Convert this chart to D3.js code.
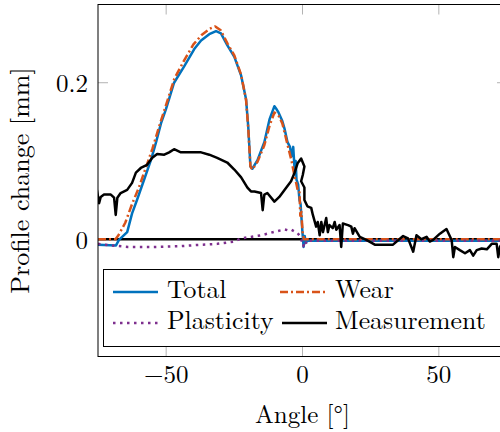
<!DOCTYPE html>
<html>
<head>
<meta charset="utf-8">
<script src="https://cdn.jsdelivr.net/npm/d3@7"></script>
<style>
  body { margin: 0; background: #fff; }
</style>
</head>
<body>
<svg id="chart" width="500" height="432"></svg>
<script>
// angle [deg], profile change [mm]
const totalData = [
  [-75, -0.007], [-68.4, -0.008], [-67.3, -0.001], [-64.3, 0.009], [-62.5, 0.033],
  [-60.7, 0.05], [-58.1, 0.076], [-55.5, 0.102], [-53.7, 0.124], [-51.9, 0.148],
  [-50.1, 0.166], [-47.1, 0.2], [-43.4, 0.221], [-39.7, 0.243], [-37.2, 0.254],
  [-34.2, 0.262], [-31.7, 0.266], [-29.9, 0.263], [-27.6, 0.248], [-25, 0.233],
  [-22.5, 0.209], [-20.7, 0.179], [-19.9, 0.144], [-19.1, 0.093], [-18.4, 0.09],
  [-16.5, 0.101], [-14, 0.124], [-12.1, 0.153], [-10.3, 0.17], [-9.5, 0.166],
  [-8.8, 0.162], [-7.4, 0.151], [-6.5, 0.14], [-5.5, 0.124], [-4.6, 0.118],
  [-4, 0.106], [-3.4, 0.118], [-2.9, 0.089], [-2.5, 0.1], [-2.2, 0.076],
  [-1.6, 0.07], [-1.1, 0.05], [-0.7, 0.045], [-0.4, 0.028], [0, 0.008],
  [0.4, -0.01], [0.8, 0.004], [1.2, -0.004], [2, -0.002], [75, -0.002]
];

const wearData = [
  [-75, 0], [-68.6, 0], [-67.5, 0.005], [-65, 0.021], [-62.5, 0.045],
  [-60, 0.066], [-57.5, 0.091], [-55, 0.116], [-52.5, 0.145], [-50, 0.172],
  [-47, 0.205], [-43.5, 0.228], [-40, 0.249], [-37, 0.261], [-34, 0.269],
  [-32, 0.272], [-30, 0.267], [-27.5, 0.25], [-25, 0.235], [-22.5, 0.21],
  [-20.7, 0.178], [-19.9, 0.142], [-19.1, 0.093], [-18.4, 0.089], [-16.5, 0.099],
  [-14, 0.12], [-12, 0.146], [-10.3, 0.162], [-8.8, 0.158], [-7.4, 0.148],
  [-5.5, 0.121], [-4, 0.1], [-2.9, 0.08], [-2.2, 0.07], [-1.6, 0.06],
  [-1.1, 0.06], [-0.8, 0.03], [-0.4, 0.035], [0, 0.01], [0.5, 0], [75, 0]
];

const plasticityData = [
  [-75, -0.006], [-70, -0.008], [-64, -0.01], [-55, -0.01], [-45, -0.009],
  [-39.7, -0.0077], [-31.2, -0.006], [-25, -0.003], [-22.5, 0.001], [-15, 0.005],
  [-10.3, 0.0094], [-6.6, 0.0125], [-5, 0.011], [-4, 0.012], [-3, 0.01],
  [-1.8, 0.0077], [-1, 0.004], [-0.5, 0], [0.3, -0.009], [0.8, -0.002],
  [1.5, -0.006], [2.5, -0.002], [75, -0.002]
];

const measurementData = [
  [-75.4, 0.063], [-74.6, 0.046], [-74, 0.054], [-72.8, 0.057], [-70.3, 0.057],
  [-69.1, 0.053], [-68.5, 0.031], [-67.9, 0.053], [-66.7, 0.059], [-64.3, 0.063],
  [-62.5, 0.072], [-61.1, 0.085], [-59.3, 0.091], [-57, 0.095], [-55.1, 0.104],
  [-53.3, 0.109], [-50.7, 0.108], [-48.9, 0.111], [-47.1, 0.115], [-44.6, 0.111],
  [-40.9, 0.111], [-37.2, 0.111], [-34.2, 0.108], [-31.3, 0.104], [-27.6, 0.098],
  [-25, 0.089], [-22.5, 0.079], [-20.2, 0.066], [-18.9, 0.061], [-17.6, 0.061],
  [-15.2, 0.059], [-14.6, 0.037], [-14, 0.057], [-12.9, 0.059], [-10.3, 0.048],
  [-8.5, 0.054], [-6.6, 0.063], [-4.2, 0.074], [-2.9, 0.085], [-1.8, 0.097],
  [-0.5, 0.103], [0.7, 0.093], [0.1, 0.082], [-0.5, 0.074], [0.7, 0.066],
  [0.7, 0.05], [1.8, 0.042], [3.2, 0.04], [3.8, 0.031], [5, 0.016],
  [5.6, 0.022], [6.3, 0.005], [6.9, 0.022], [7.5, 0.009], [8.7, 0.027],
  [9.3, 0.009], [9.9, 0.018], [11.1, 0.014], [11.8, 0.022], [12.4, 0.012],
  [13.6, 0.018], [14.2, -0.01], [14.8, 0.02], [16.7, 0.018], [17.9, 0.016],
  [18.5, 0.007], [19.1, 0.014], [21, 0.003], [23.4, -0.001], [26.5, -0.007],
  [33.2, -0.007], [36.9, 0.004], [38.7, 0.001], [40.6, -0.016], [41.8, 0.005],
  [43.6, 0], [45.5, 0.003], [46.7, -0.003], [47.9, -0.001], [50.4, 0.007],
  [52.8, 0.013], [54.7, -0.001], [55.3, -0.023], [55.9, -0.01], [57.7, -0.014],
  [59.6, -0.018], [61.4, -0.014], [62.6, -0.021], [63.9, -0.014], [65.7, -0.012],
  [67.6, -0.013], [69.4, -0.006], [71.2, -0.006], [71.8, -0.023], [72.4, -0.01],
  [73.5, -0.004], [75, -0.004]
];

const xTicks = [-50, 0, 50];
const yTicks = [0, 0.2];

const legendNames = ["Total", "Wear", "Plasticity", "Measurement"];

// Plot area
const plotLeft = 98, plotRight = 507, plotTop = 4.5, plotBottom = 356.5;
const tickLength = 10;
const lineWidth = 2.5;
const fontFamily = '"Latin Modern Roman", "Liberation Serif", serif';
const fontSize = "25px";

const svg = d3.select("#chart");

const x = d3.scaleLinear().domain([-75, 75]).range([plotLeft, plotRight]);
const y = d3.scaleLinear().domain([-0.15, 0.3]).range([plotBottom, plotTop]);

const line = d3.line().x(d => x(d[0])).y(d => y(d[1]));

svg.append("defs").append("clipPath")
  .attr("id", "plot-clip")
  .append("rect")
  .attr("x", plotLeft)
  .attr("y", plotTop)
  .attr("width", plotRight - plotLeft)
  .attr("height", plotBottom - plotTop);

// ticks (pgfplots style, inside, on every side)
const tickGroup = svg.append("g").attr("stroke", "#b3b3b3").attr("stroke-width", 1);
xTicks.forEach(t => {
  tickGroup.append("line").attr("x1", x(t)).attr("x2", x(t)).attr("y1", plotBottom).attr("y2", plotBottom - tickLength);
  tickGroup.append("line").attr("x1", x(t)).attr("x2", x(t)).attr("y1", plotTop).attr("y2", plotTop + tickLength);
});
yTicks.forEach(t => {
  tickGroup.append("line").attr("x1", plotLeft).attr("x2", plotLeft + tickLength).attr("y1", y(t)).attr("y2", y(t));
  tickGroup.append("line").attr("x1", plotRight).attr("x2", plotRight - tickLength).attr("y1", y(t)).attr("y2", y(t));
});

// data
const plot = svg.append("g").attr("clip-path", "url(#plot-clip)").attr("fill", "none");

plot.append("path")
  .attr("d", line([[-75, 0], [75, 0]]))
  .attr("stroke", "#000")
  .attr("stroke-width", lineWidth);

const series = [
  { data: totalData, color: "#0072BD", dash: null },
  { data: wearData, color: "#D95319", dash: "8,3,2,3" },
  { data: plasticityData, color: "#7E2F8E", dash: "2.5,4.5" },
  { data: measurementData, color: "#000000", dash: null }
];

series.forEach(s => {
  plot.append("path")
    .attr("d", line(s.data))
    .attr("stroke", s.color)
    .attr("stroke-width", lineWidth)
    .attr("stroke-linejoin", "round")
    .attr("stroke-dasharray", s.dash);
});

// frame
svg.append("rect")
  .attr("x", plotLeft)
  .attr("y", plotTop)
  .attr("width", plotRight - plotLeft)
  .attr("height", plotBottom - plotTop)
  .attr("fill", "none")
  .attr("stroke", "#000")
  .attr("stroke-width", 1);

// tick labels
svg.append("g").selectAll("text")
  .data(xTicks)
  .join("text")
  .attr("x", d => x(d))
  .attr("y", 383)
  .attr("text-anchor", "middle")
  .style("font-family", fontFamily)
  .style("font-size", fontSize)
  .text(d => d3.format("d")(d));

svg.append("g").selectAll("text")
  .data(yTicks)
  .join("text")
  .attr("x", 88)
  .attr("y", d => y(d) + 9.5)
  .attr("text-anchor", "end")
  .style("font-family", fontFamily)
  .style("font-size", fontSize)
  .text(d => d3.format("")(d));

// axis titles
svg.append("text")
  .attr("x", (plotLeft + plotRight) / 2)
  .attr("y", 423)
  .attr("text-anchor", "middle")
  .style("font-family", fontFamily)
  .style("font-size", fontSize)
  .text("Angle [°]");

svg.append("text")
  .attr("transform", `translate(29, ${(plotTop + plotBottom) / 2}) rotate(-90)`)
  .attr("text-anchor", "middle")
  .style("font-family", fontFamily)
  .style("font-size", "26px")
  .text("Profile change [mm]");

// legend
const legend = svg.append("g");
legend.append("rect")
  .attr("x", 103.5)
  .attr("y", 269.5)
  .attr("width", 404)
  .attr("height", 77)
  .attr("fill", "#fff")
  .attr("stroke", "#000")
  .attr("stroke-width", 1);

const legendPos = [
  { lx: 113, ty: 292, tx: 167 },
  { lx: 280, ty: 292, tx: 335 },
  { lx: 113, ty: 323, tx: 167 },
  { lx: 282, ty: 323, tx: 335 }
];

legendNames.forEach((name, i) => {
  const p = legendPos[i];
  legend.append("line")
    .attr("x1", p.lx)
    .attr("x2", p.lx + 45)
    .attr("y1", p.ty)
    .attr("y2", p.ty)
    .attr("stroke", series[i].color)
    .attr("stroke-width", lineWidth)
    .attr("stroke-dasharray", series[i].dash);
  legend.append("text")
    .attr("x", p.tx)
    .attr("y", p.ty + 6)
    .style("font-family", fontFamily)
    .style("font-size", "25.8px")
    .text(name);
});
</script>
</body>
</html>
